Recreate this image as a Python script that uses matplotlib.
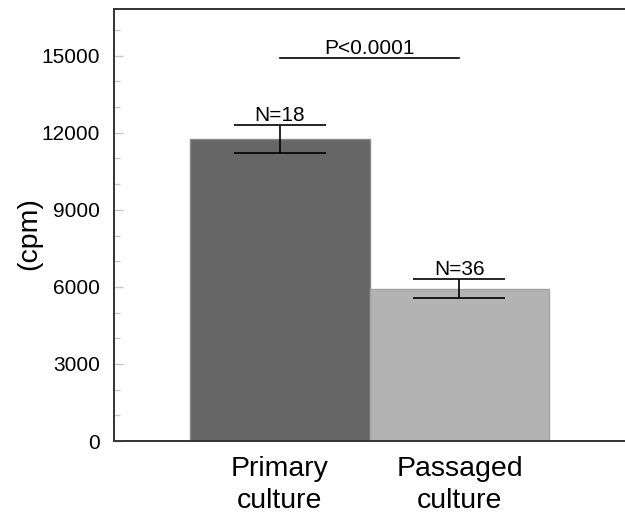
import matplotlib.pyplot as plt
from matplotlib.ticker import MultipleLocator

plt.rcParams['font.family'] = ['Liberation Sans', 'DejaVu Sans']

groups = ["Primary\nculture", "Passaged\nculture"]
means = [11750, 5920]
errors = [550, 370]
counts = ["N=18", "N=36"]
colors = ["#666666", "#b3b3b3"]
edges = ["#8a8a8a", "#a3a3a3"]
p_text = "P<0.0001"
p_y = 14900

fig = plt.figure(figsize=(6.25, 5.16), dpi=100)
ax = fig.add_axes([0.1824, 0.1453, 0.8176, 0.8373])

x = list(range(len(groups)))
ax.bar(x, means, width=1.0, color=colors, edgecolor=edges, linewidth=1.0, zorder=2)
ax.errorbar(x, means, yerr=errors, fmt='none', ecolor='black', elinewidth=1.2,
            capsize=33, capthick=1.2, zorder=3)

for xi, m, e, n in zip(x, means, errors, counts):
    ax.text(xi, m + e, n, ha='center', va='bottom', fontsize=15)

ax.plot([x[0], x[1]], [p_y, p_y], color='black', linewidth=1.2)
ax.text((x[0] + x[1]) / 2, p_y, p_text, ha='center', va='bottom', fontsize=15)

ax.set_xlim(-0.92, 1.92)
ax.set_ylim(0, 16820)
ax.yaxis.set_major_locator(MultipleLocator(3000))
ax.yaxis.set_minor_locator(MultipleLocator(1000))
ax.tick_params(axis='y', which='major', direction='in', length=6.5, width=1,
               color='#c8c8c8', labelsize=15, pad=10)
ax.tick_params(axis='y', which='minor', direction='in', length=4, width=1,
               color='#c8c8c8')
ax.set_xticks(x)
ax.set_xticklabels(groups, fontsize=20.5, linespacing=1.3)
ax.tick_params(axis='x', length=0, pad=11)

ax.set_ylabel("(cpm)", fontsize=20.5)
ax.yaxis.set_label_coords(-0.14, 0.48)

for s in ['left', 'bottom', 'top']:
    ax.spines[s].set_color('#333333')
    ax.spines[s].set_linewidth(1.4)
ax.spines['right'].set_visible(False)

plt.savefig("out.png", dpi=100)
